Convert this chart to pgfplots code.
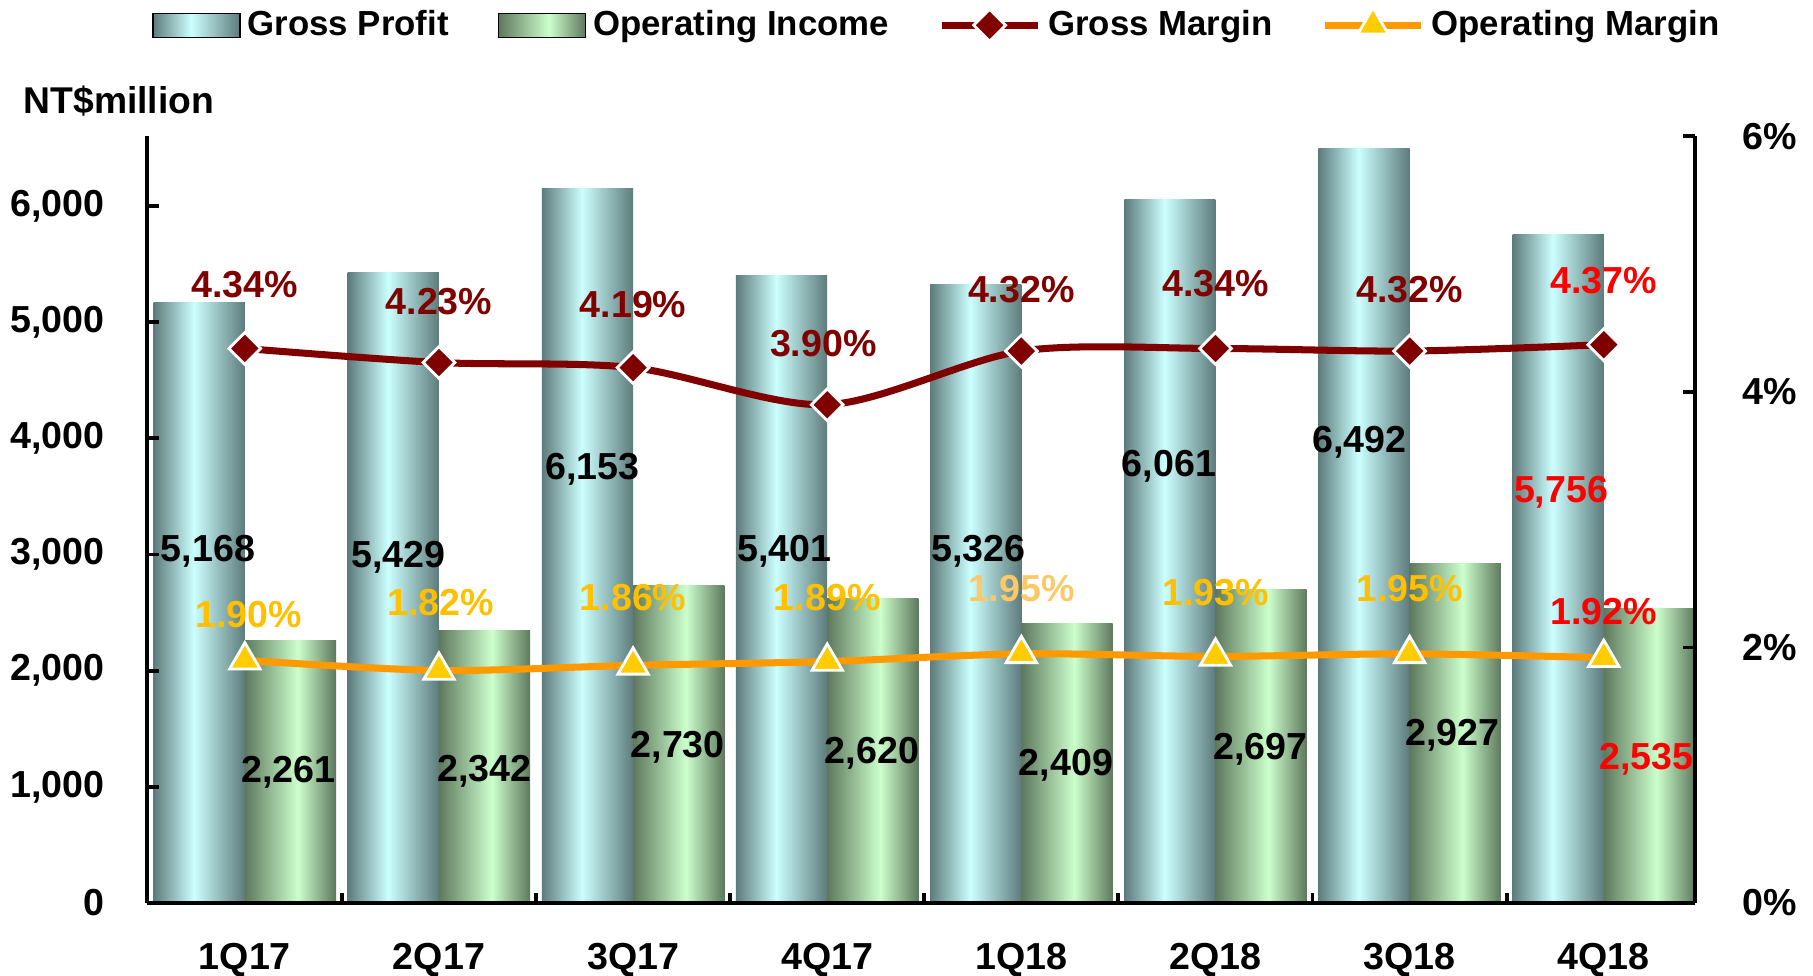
\documentclass[border=0pt]{standalone}
\usepackage{pgfplots}
\pgfplotsset{compat=1.18}
\usepackage{fontspec}
\setmainfont{Liberation Sans}
\definecolor{gpdark}{HTML}{5E7B7B}
\definecolor{gplight}{HTML}{CCFFFF}
\definecolor{oidark}{HTML}{5E785E}
\definecolor{oilight}{HTML}{CCFFCC}
\definecolor{gmred}{HTML}{800000}
\definecolor{omorange}{HTML}{FF9900}
\definecolor{omyellow}{HTML}{FFCC00}
\definecolor{omlabel}{HTML}{FFC000}
\definecolor{omlight}{HTML}{FFC866}
\pgfdeclarehorizontalshading{gpshade}{100bp}{color(0bp)=(gpdark); color(25bp)=(gpdark); color(47bp)=(gplight); color(75bp)=(gpdark); color(100bp)=(gpdark)}
\pgfdeclarehorizontalshading{oishade}{100bp}{color(0bp)=(oidark); color(25bp)=(oidark); color(54bp)=(oilight); color(75bp)=(oidark); color(100bp)=(oidark)}
\newcommand\lf{\bfseries\fontsize{10.7}{12}\selectfont}
\pgfplotsset{
  common/.style={
    scale only axis, width=15.482cm, height=7.666cm,
    at={(1.468cm,0.73cm)}, anchor=south west,
    xmin=-0.505, xmax=7.47, clip=false,
    axis line style={line width=1.1pt, -},
    tick align=inside,
    major tick length=0.12cm, minor tick length=0.1cm,
    tick style={line width=1.1pt, black},
    tick label style={font=\lf},
    /pgf/number format/assume math mode=true,
  },
  longline legend/.style={legend image code/.code={\draw[##1, mark repeat=2, mark phase=2] plot coordinates {(0cm,0cm) (0.48cm,0cm) (0.96cm,0cm)};}},
  gpbar/.style={ybar, bar width=0.47, bar shift=-0.235, draw=none, shading=gpshade, forget plot},
  oibar/.style={ybar, bar width=0.47, bar shift=0.235, draw=none, shading=oishade, forget plot},
}
\begin{document}
\begin{tikzpicture}
\useasboundingbox (0,0) rectangle (18.13cm,9.76cm);
\begin{axis}[common,
  ymin=0, ymax=6600,
  axis x line*=bottom, axis y line*=left,
  axis on top,
  xtick={0,...,7},
  xticklabels={1Q17,2Q17,3Q17,4Q17,1Q18,2Q18,3Q18,4Q18},
  major x tick style={draw=none},
  minor xtick={0.5,1.5,...,6.5},
  ytick={0,1000,...,6000},
  yticklabel style={xshift=-0.3cm, /pgf/number format/1000 sep={,}},
  xticklabel style={yshift=-0.28cm},
]
% Gross Profit (one bar per plot so that each bar gets its own shading)
\addplot[gpbar] coordinates {(0,5168)};
\addplot[gpbar] coordinates {(1,5429)};
\addplot[gpbar] coordinates {(2,6153)};
\addplot[gpbar] coordinates {(3,5401)};
\addplot[gpbar] coordinates {(4,5326)};
\addplot[gpbar] coordinates {(5,6061)};
\addplot[gpbar] coordinates {(6,6492)};
\addplot[gpbar] coordinates {(7,5756)};
% Operating Income
\addplot[oibar] coordinates {(0,2261)};
\addplot[oibar] coordinates {(1,2342)};
\addplot[oibar] coordinates {(2,2730)};
\addplot[oibar] coordinates {(3,2620)};
\addplot[oibar] coordinates {(4,2409)};
\addplot[oibar] coordinates {(5,2697)};
\addplot[oibar] coordinates {(6,2927)};
\addplot[oibar] coordinates {(7,2535)};
\begin{scope}[every node/.style={font=\lf}]
\node at (axis cs:-0.19,3030) {5,168};
\node at (axis cs:0.79,2975) {5,429};
\node at (axis cs:1.79,3735) {6,153};
\node at (axis cs:2.78,3030) {5,401};
\node at (axis cs:3.78,3030) {5,326};
\node at (axis cs:4.76,3760) {6,061};
\node at (axis cs:5.74,3970) {6,492};
\node[text=red] at (axis cs:6.78,3535) {5,756};
\node at (axis cs:0.225,1128) {2,261};
\node at (axis cs:1.235,1138) {2,342};
\node at (axis cs:2.23,1337) {2,730};
\node at (axis cs:3.23,1287) {2,620};
\node at (axis cs:4.23,1188) {2,409};
\node at (axis cs:5.23,1327) {2,697};
\node at (axis cs:6.22,1447) {2,927};
\node[text=red] at (axis cs:7.22,1238) {2,535};
\end{scope}
\end{axis}
\begin{axis}[common,
  ymin=0, ymax=6,
  axis x line=none, axis y line*=right,
  ytick={0,2,4,6},
  yticklabel={\pgfmathprintnumber{\tick}\%},
  yticklabel style={anchor=west, xshift=0.35cm},
  legend columns=4,
  legend style={at={(0.512,1.145)}, anchor=center, draw=none, fill=none,
    font=\bfseries\fontsize{9.9}{11}\selectfont,
    /tikz/every even column/.append style={column sep=0.42cm},
    nodes={inner sep=2pt}},
]
\addlegendimage{legend image code/.code={\fill[shading=gpshade] (0cm,-0.12cm) rectangle (0.87cm,0.12cm);}}
\addlegendentry{Gross Profit}
\addlegendimage{legend image code/.code={\fill[shading=oishade] (0cm,-0.12cm) rectangle (0.87cm,0.12cm);}}
\addlegendentry{Operating Income}
\addplot[gmred, line width=2pt, smooth, mark=square*, mark size=3.2pt,
  mark options={rotate=45, fill=gmred, draw=white, line width=0.8pt},
  longline legend]
coordinates {(0,4.34) (1,4.23) (2,4.19) (3,3.90) (4,4.32) (5,4.34) (6,4.32) (7,4.37)};
\addlegendentry{Gross Margin}
\addplot[omorange, line width=2pt, smooth, mark=triangle*, mark size=5pt,
  mark options={fill=omyellow, draw=white, line width=0.8pt},
  longline legend]
coordinates {(0,1.90) (1,1.82) (2,1.86) (3,1.89) (4,1.95) (5,1.93) (6,1.95) (7,1.92)};
\addlegendentry{Operating Margin}
\begin{scope}[every node/.style={font=\lf}]
\node[text=gmred] at (axis cs:0,4.84) {4.34\%};
\node[text=gmred] at (axis cs:1,4.71) {4.23\%};
\node[text=gmred] at (axis cs:2,4.68) {4.19\%};
\node[text=gmred] at (axis cs:2.98,4.38) {3.90\%};
\node[text=gmred] at (axis cs:4,4.80) {4.32\%};
\node[text=gmred] at (axis cs:5,4.85) {4.34\%};
\node[text=gmred] at (axis cs:6,4.80) {4.32\%};
\node[text=red] at (axis cs:7,4.87) {4.37\%};
\node[text=omlabel] at (axis cs:0.02,2.26) {1.90\%};
\node[text=omlabel] at (axis cs:1.01,2.35) {1.82\%};
\node[text=omlabel] at (axis cs:2,2.39) {1.86\%};
\node[text=omlabel] at (axis cs:3,2.39) {1.89\%};
\node[text=omlight] at (axis cs:4,2.46) {1.95\%};
\node[text=omlabel] at (axis cs:5,2.43) {1.93\%};
\node[text=omlabel] at (axis cs:6,2.46) {1.95\%};
\node[text=red] at (axis cs:7,2.28) {1.92\%};
\end{scope}
\end{axis}
\node[anchor=west, inner sep=0pt, font=\bfseries\fontsize{10.6}{12}\selectfont] at (0.23cm,8.754cm) {NT\$million};
\end{tikzpicture}
\end{document}
